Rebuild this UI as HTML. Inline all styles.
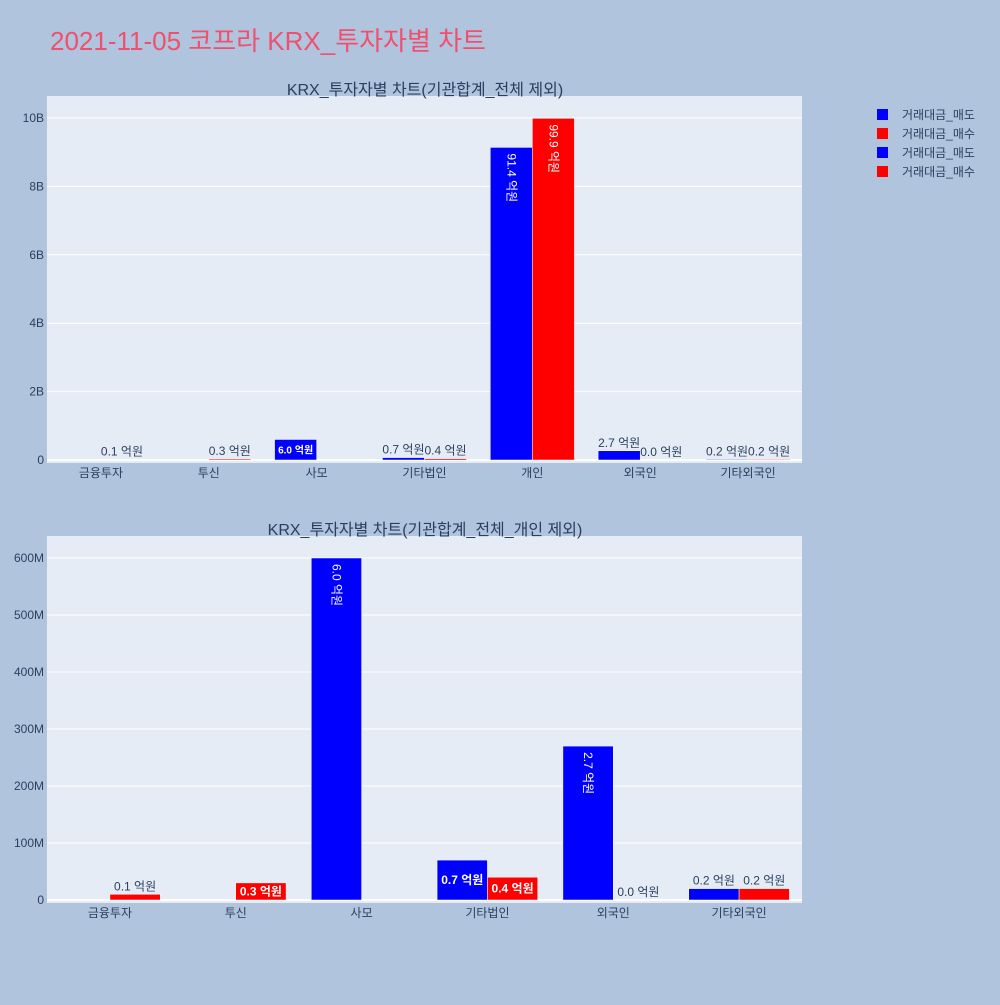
<!DOCTYPE html>
<html><head><meta charset="utf-8">
<style>
body{margin:0;background:#b0c4de;font-family:"Liberation Sans","Noto Sans CJK KR",sans-serif;}
svg text{font-family:"Liberation Sans","Noto Sans CJK KR",sans-serif;}
</style></head>
<body>
<svg id="c" width="1000" height="1000" xmlns="http://www.w3.org/2000/svg">
<rect width="1000" height="1000" fill="#b0c4de"/>
<text x="50" y="50" font-size="26" fill="#f0506e">2021-11-05 코프라 KRX_투자자별 차트</text>
<g>
<rect x="877" y="109" width="11" height="11" fill="#0000ff"/>
<text x="902" y="119" font-size="12" fill="#2a3f5f">거래대금_매도</text>
<rect x="877" y="128" width="11" height="11" fill="#ff0000"/>
<text x="902" y="138" font-size="12" fill="#2a3f5f">거래대금_매수</text>
<rect x="877" y="147" width="11" height="11" fill="#0000ff"/>
<text x="902" y="157" font-size="12" fill="#2a3f5f">거래대금_매도</text>
<rect x="877" y="166" width="11" height="11" fill="#ff0000"/>
<text x="902" y="176" font-size="12" fill="#2a3f5f">거래대금_매수</text>
</g>
</svg>
<script>
const cats1=["금융투자","투신","사모","기타법인","개인","외국인","기타외국인"];
const sell1=[0.0,0.0,6.0,0.7,91.4,2.7,0.2];
const buy1=[0.1,0.3,0.0,0.4,99.9,0.0,0.2];
const ticks1=[0,2,4,6,8,10];
const tickLabels1=["0","2B","4B","6B","8B","10B"];
const cats2=["금융투자","투신","사모","기타법인","외국인","기타외국인"];
const sell2=[0.0,0.0,6.0,0.7,2.7,0.2];
const buy2=[0.1,0.3,0.0,0.4,0.0,0.2];
const ticks2=[0,100,200,300,400,500,600];
const tickLabels2=["0","100M","200M","300M","400M","500M","600M"];

const svg=document.getElementById('c');
const NS="http://www.w3.org/2000/svg";
function mk(tag,attrs,parent){const e=document.createElementNS(NS,tag);for(const k in attrs)e.setAttribute(k,attrs[k]);(parent||svg).appendChild(e);return e;}

function panel(p){
  const g=mk('g',{});
  
  
  const bg=mk('rect',{x:p.x0,y:p.y0,width:p.x1-p.x0,height:p.y1-p.y0,fill:'#e5ecf6'},g);
  
  
  const yS=v=>p.zeroY-(v/p.tmax)*(p.zeroY-p.topY);
  p.ticks.forEach((t,i)=>{
    const y=yS(t);
    const l=mk('line',{x1:p.x0,x2:p.x1,y1:y,y2:y,stroke:'#fff','stroke-width':i==0?2:1},g);
    
    
    const tx=mk('text',{x:p.x0-3,y:y+4,'font-size':12,fill:'#2a3f5f','text-anchor':'end'},g);
    tx.textContent=p.tickLabels[i];
    
    
  });
  const n=p.cats.length, cw=(p.x1-p.x0)/n, bw=cw*p.bwf;
  const valM=v=>v*p.unit; // value in tick units
  p.cats.forEach((c,i)=>{
    const cx=p.x0+cw*(i+0.5);
    const t=mk('text',{x:cx,y:p.y1+14,'font-size':12,fill:'#2a3f5f','text-anchor':'middle'},g);
    t.textContent=c;
    
    
    [[p.sell[i],'#0000ff',cx-bw,'bar-sell'],[p.buy[i],'#ff0000',cx,'bar-buy']].forEach(([v,col,bx,nm])=>{
      const top=yS(valM(v)), h=p.zeroY-top;
      const r=mk('rect',{x:bx,y:top,width:bw,height:Math.max(h,0),fill:col,stroke:'#fff','stroke-width':0.5},g);
      
      
      const lab=v.toFixed(1)+' 억원';
      const lx=bx+bw/2;
      let tl;
      if(h>60){
        tl=mk('text',{x:lx,y:top+6,'font-size':12,fill:'#fff','text-anchor':'start',transform:`rotate(90 ${lx} ${top+6}) translate(0 4)`},g);
      } else if(h>15){
        tl=mk('text',{x:lx,y:top+h/2+4,'font-size':p.insideSize,'font-weight':'bold',fill:'#fff','text-anchor':'middle'},g);
      } else {
        if(v===0 && !p.showZero(i,nm)) return;
        tl=mk('text',{x:lx,y:top-4,'font-size':12,fill:'#2a3f5f','text-anchor':'middle'},g);
      }
      tl.textContent=lab;
      
      
    });
  });
  const tt=mk('text',{x:p.tx,y:p.y0-1,'font-size':16,fill:'#2a3f5f','text-anchor':'middle'},g);
  tt.textContent=p.title;
  
  
}
panel({name:'top-subplot',x0:47,x1:802,y0:96,y1:463,zeroY:460,topY:118,tmax:10,unit:0.1,
  ticks:ticks1,tickLabels:tickLabels1,cats:cats1,sell:sell1,buy:buy1,bwf:0.39,insideSize:10,
  showZero:(i,nm)=>nm==='bar-buy'&&i===5,title:'KRX_투자자별 차트(기관합계_전체 제외)',tx:425});
panel({name:'bottom-subplot',x0:47,x1:802,y0:536,y1:903,zeroY:900,topY:558,tmax:600,unit:100,
  ticks:ticks2,tickLabels:tickLabels2,cats:cats2,sell:sell2,buy:buy2,bwf:0.4,insideSize:12,
  showZero:(i,nm)=>nm==='bar-buy'&&i===4,title:'KRX_투자자별 차트(기관합계_전체_개인 제외)',tx:425});
</script>
</body></html>
